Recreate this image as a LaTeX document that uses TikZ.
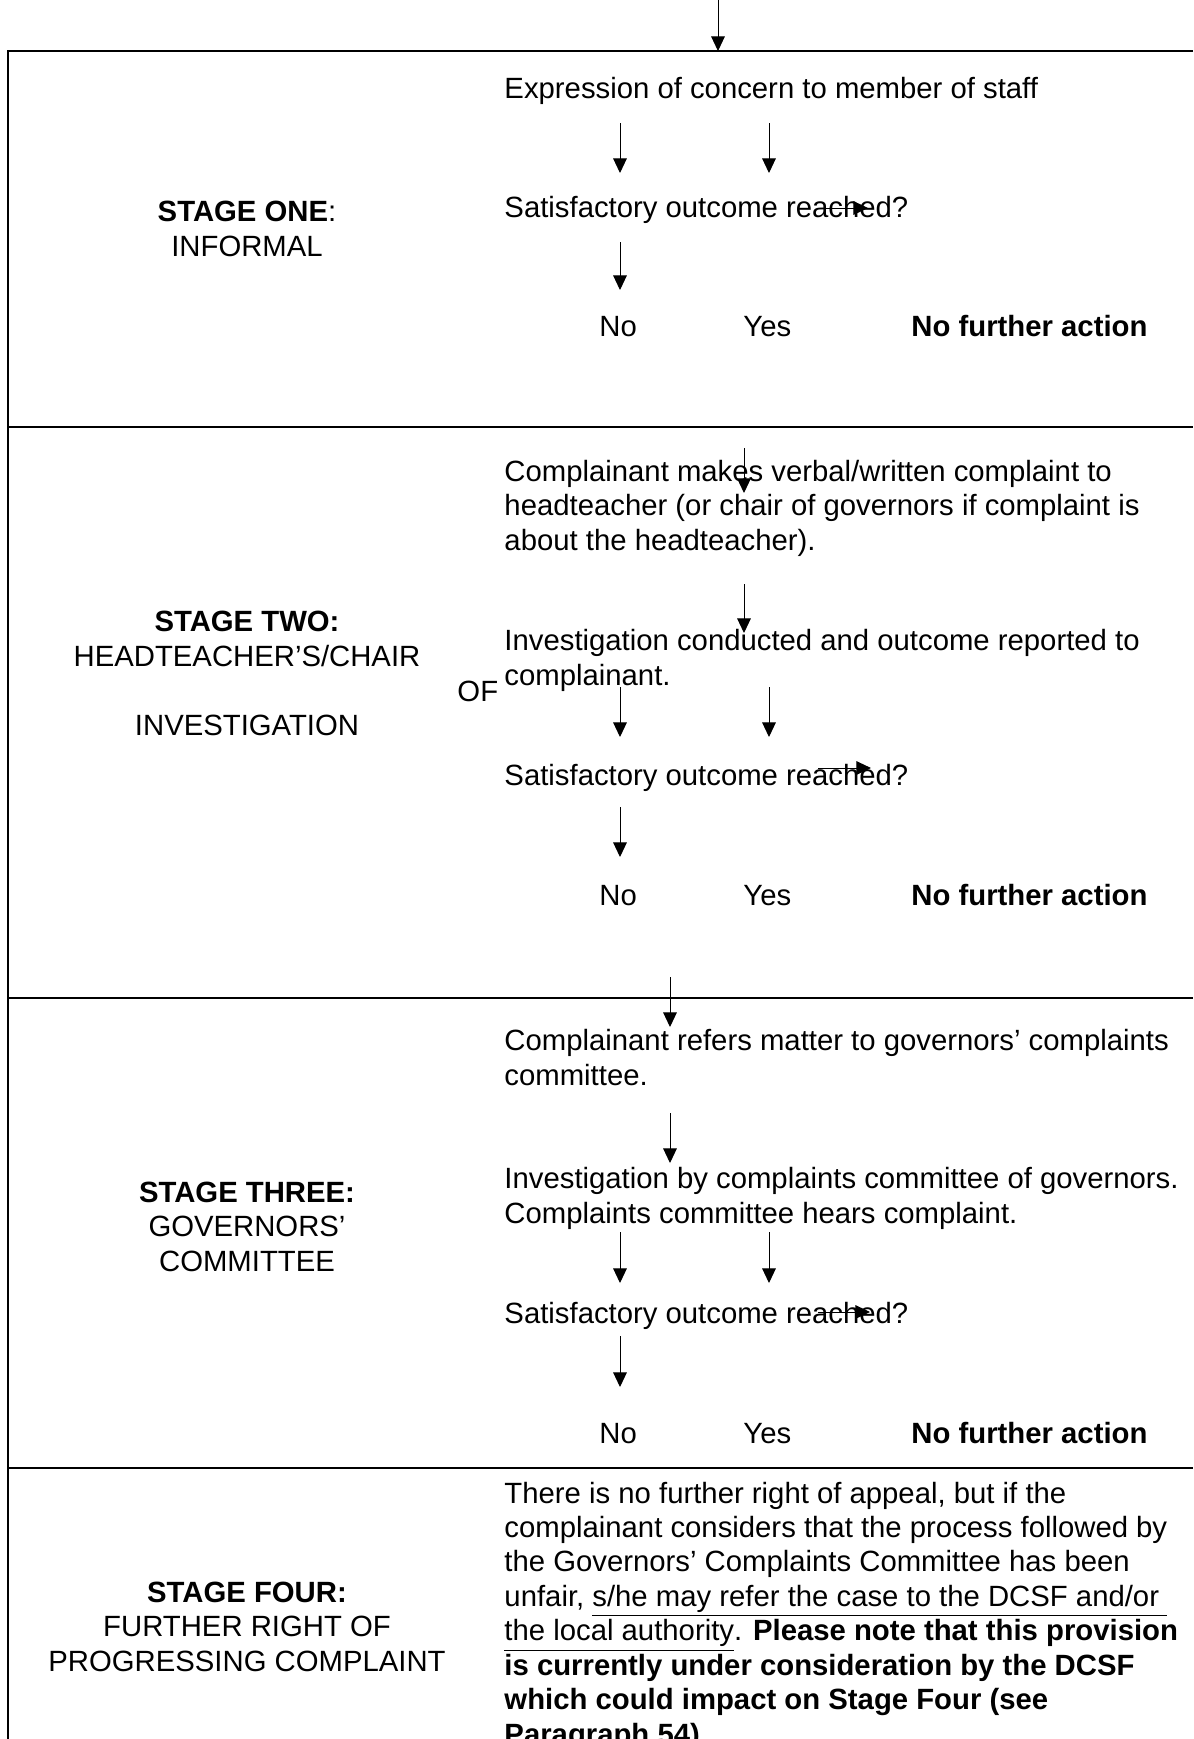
\documentclass[tikz,border=0pt]{standalone}
\usepackage{fontspec}
\setmainfont{Liberation Sans}
\usetikzlibrary{arrows.meta}

\begin{document}
\begin{tikzpicture}[
   x=0.4096pt, y=-0.4096pt,
   every node/.style={inner sep=0pt, font=\fontsize{12}{14.1}\selectfont},
   txt/.style={anchor=base west, align=left},
   stage/.style={anchor=base, align=center},
   rule/.style={line width=0.8pt},
   arrow/.style={-{Triangle[length=6pt,width=5.6pt]}, line width=0.4pt}
]
\useasboundingbox (0,0) rectangle (1193,1739);

% Table (multi-line nodes are placed at their last baseline)
\draw[rule] (1193,51) -- (8,51) -- (8,1739);
\draw[rule] (8,427) -- (1193,427);
\draw[rule] (8,998) -- (1193,998);
\draw[rule] (8,1468) -- (1193,1468);

% Entry
\coordinate (start) at (718,0);
\coordinate (entry) at (718,51);
\draw[arrow] (start) -- (entry);

% Stage one
\node[stage] (st1) at (247,256) {\textbf{STAGE ONE}:\\INFORMAL};
\node[txt] (expr) at (504,98) {Expression of concern to member of staff};
\node[txt] (sat1) at (504,217) {Satisfactory outcome reached?};
\node[txt] (no1) at (599,336) {No};
\node[txt] (yes1) at (743,336) {Yes};
\node[txt] (nfa1) at (911,336) {\textbf{No further action}};
\coordinate (a1) at (620,123); \coordinate (b1) at (620,173);
\coordinate (c1) at (769,123); \coordinate (d1) at (769,173);
\coordinate (e1) at (820,208); \coordinate (f1) at (868,208);
\coordinate (g1) at (620,242); \coordinate (h1) at (620,290);
\draw[arrow] (a1) -- (b1);
\draw[arrow] (c1) -- (d1);
\draw[arrow] (e1) -- (f1);
\draw[arrow] (g1) -- (h1);

% Stage two
\node[stage] (st2) at (247,735) {\textbf{STAGE TWO:}\\HEADTEACHER’S/CHAIR\\[14.1pt]INVESTIGATION};
\node[txt] (of) at (457,701) {OF};
\node[txt] (comp2) at (504,550) {Complainant makes verbal/written complaint to\\headteacher (or chair of governors if complaint is\\about the headteacher).};
\node[txt] (inv2) at (504,685) {Investigation conducted and outcome reported to\\complainant.};
\node[txt] (sat2) at (504,785) {Satisfactory outcome reached?};
\node[txt] (no2) at (599,905) {No};
\node[txt] (yes2) at (743,905) {Yes};
\node[txt] (nfa2) at (911,905) {\textbf{No further action}};
\coordinate (i2) at (744,448); \coordinate (j2) at (744,493);
\coordinate (k2) at (744,584); \coordinate (l2) at (744,633);
\coordinate (a2) at (620,687); \coordinate (b2) at (620,737);
\coordinate (c2) at (769,687); \coordinate (d2) at (769,737);
\coordinate (e2) at (818,768); \coordinate (f2) at (871,768);
\coordinate (g2) at (620,807); \coordinate (h2) at (620,857);
\draw[arrow] (i2) -- (j2);
\draw[arrow] (k2) -- (l2);
\draw[arrow] (a2) -- (b2);
\draw[arrow] (c2) -- (d2);
\draw[arrow] (e2) -- (f2);
\draw[arrow] (g2) -- (h2);

% Stage three
\node[stage] (st3) at (247,1271) {\textbf{STAGE THREE:}\\GOVERNORS’\\COMMITTEE};
\node[txt] (comp3) at (504,1085) {Complainant refers matter to governors’ complaints\\committee.};
\node[txt] (inv3) at (504,1223) {Investigation by complaints committee of governors.\\Complaints committee hears complaint.};
\node[txt] (sat3) at (504,1323) {Satisfactory outcome reached?};
\node[txt] (no3) at (599,1443) {No};
\node[txt] (yes3) at (743,1443) {Yes};
\node[txt] (nfa3) at (911,1443) {\textbf{No further action}};
\coordinate (i3) at (670,977); \coordinate (j3) at (670,1027);
\coordinate (k3) at (670,1113); \coordinate (l3) at (670,1163);
\coordinate (a3) at (620,1232); \coordinate (b3) at (620,1283);
\coordinate (c3) at (769,1232); \coordinate (d3) at (769,1283);
\coordinate (e3) at (818,1312); \coordinate (f3) at (870,1312);
\coordinate (g3) at (620,1336); \coordinate (h3) at (620,1387);
\draw[arrow] (i3) -- (j3);
\draw[arrow] (k3) -- (l3);
\draw[arrow] (a3) -- (b3);
\draw[arrow] (c3) -- (d3);
\draw[arrow] (e3) -- (f3);
\draw[arrow] (g3) -- (h3);

% Stage four
\node[stage] (st4) at (247,1671) {\textbf{STAGE FOUR:}\\FURTHER RIGHT OF\\PROGRESSING COMPLAINT};
\node[txt] (appeal) at (504,1744) {There is no further right of appeal, but if the\\
complainant considers that the process followed by\\
the Governors’ Complaints Committee has been\\
unfair, \underline{s/he may refer the case to the DCSF and/or }\\
\underline{the local authority}. \textbf{Please note that this provision}\\
\textbf{is currently under consideration by the DCSF}\\
\textbf{which could impact on Stage Four (see}\\
\textbf{Paragraph 54).}};

\end{tikzpicture}
\end{document}
